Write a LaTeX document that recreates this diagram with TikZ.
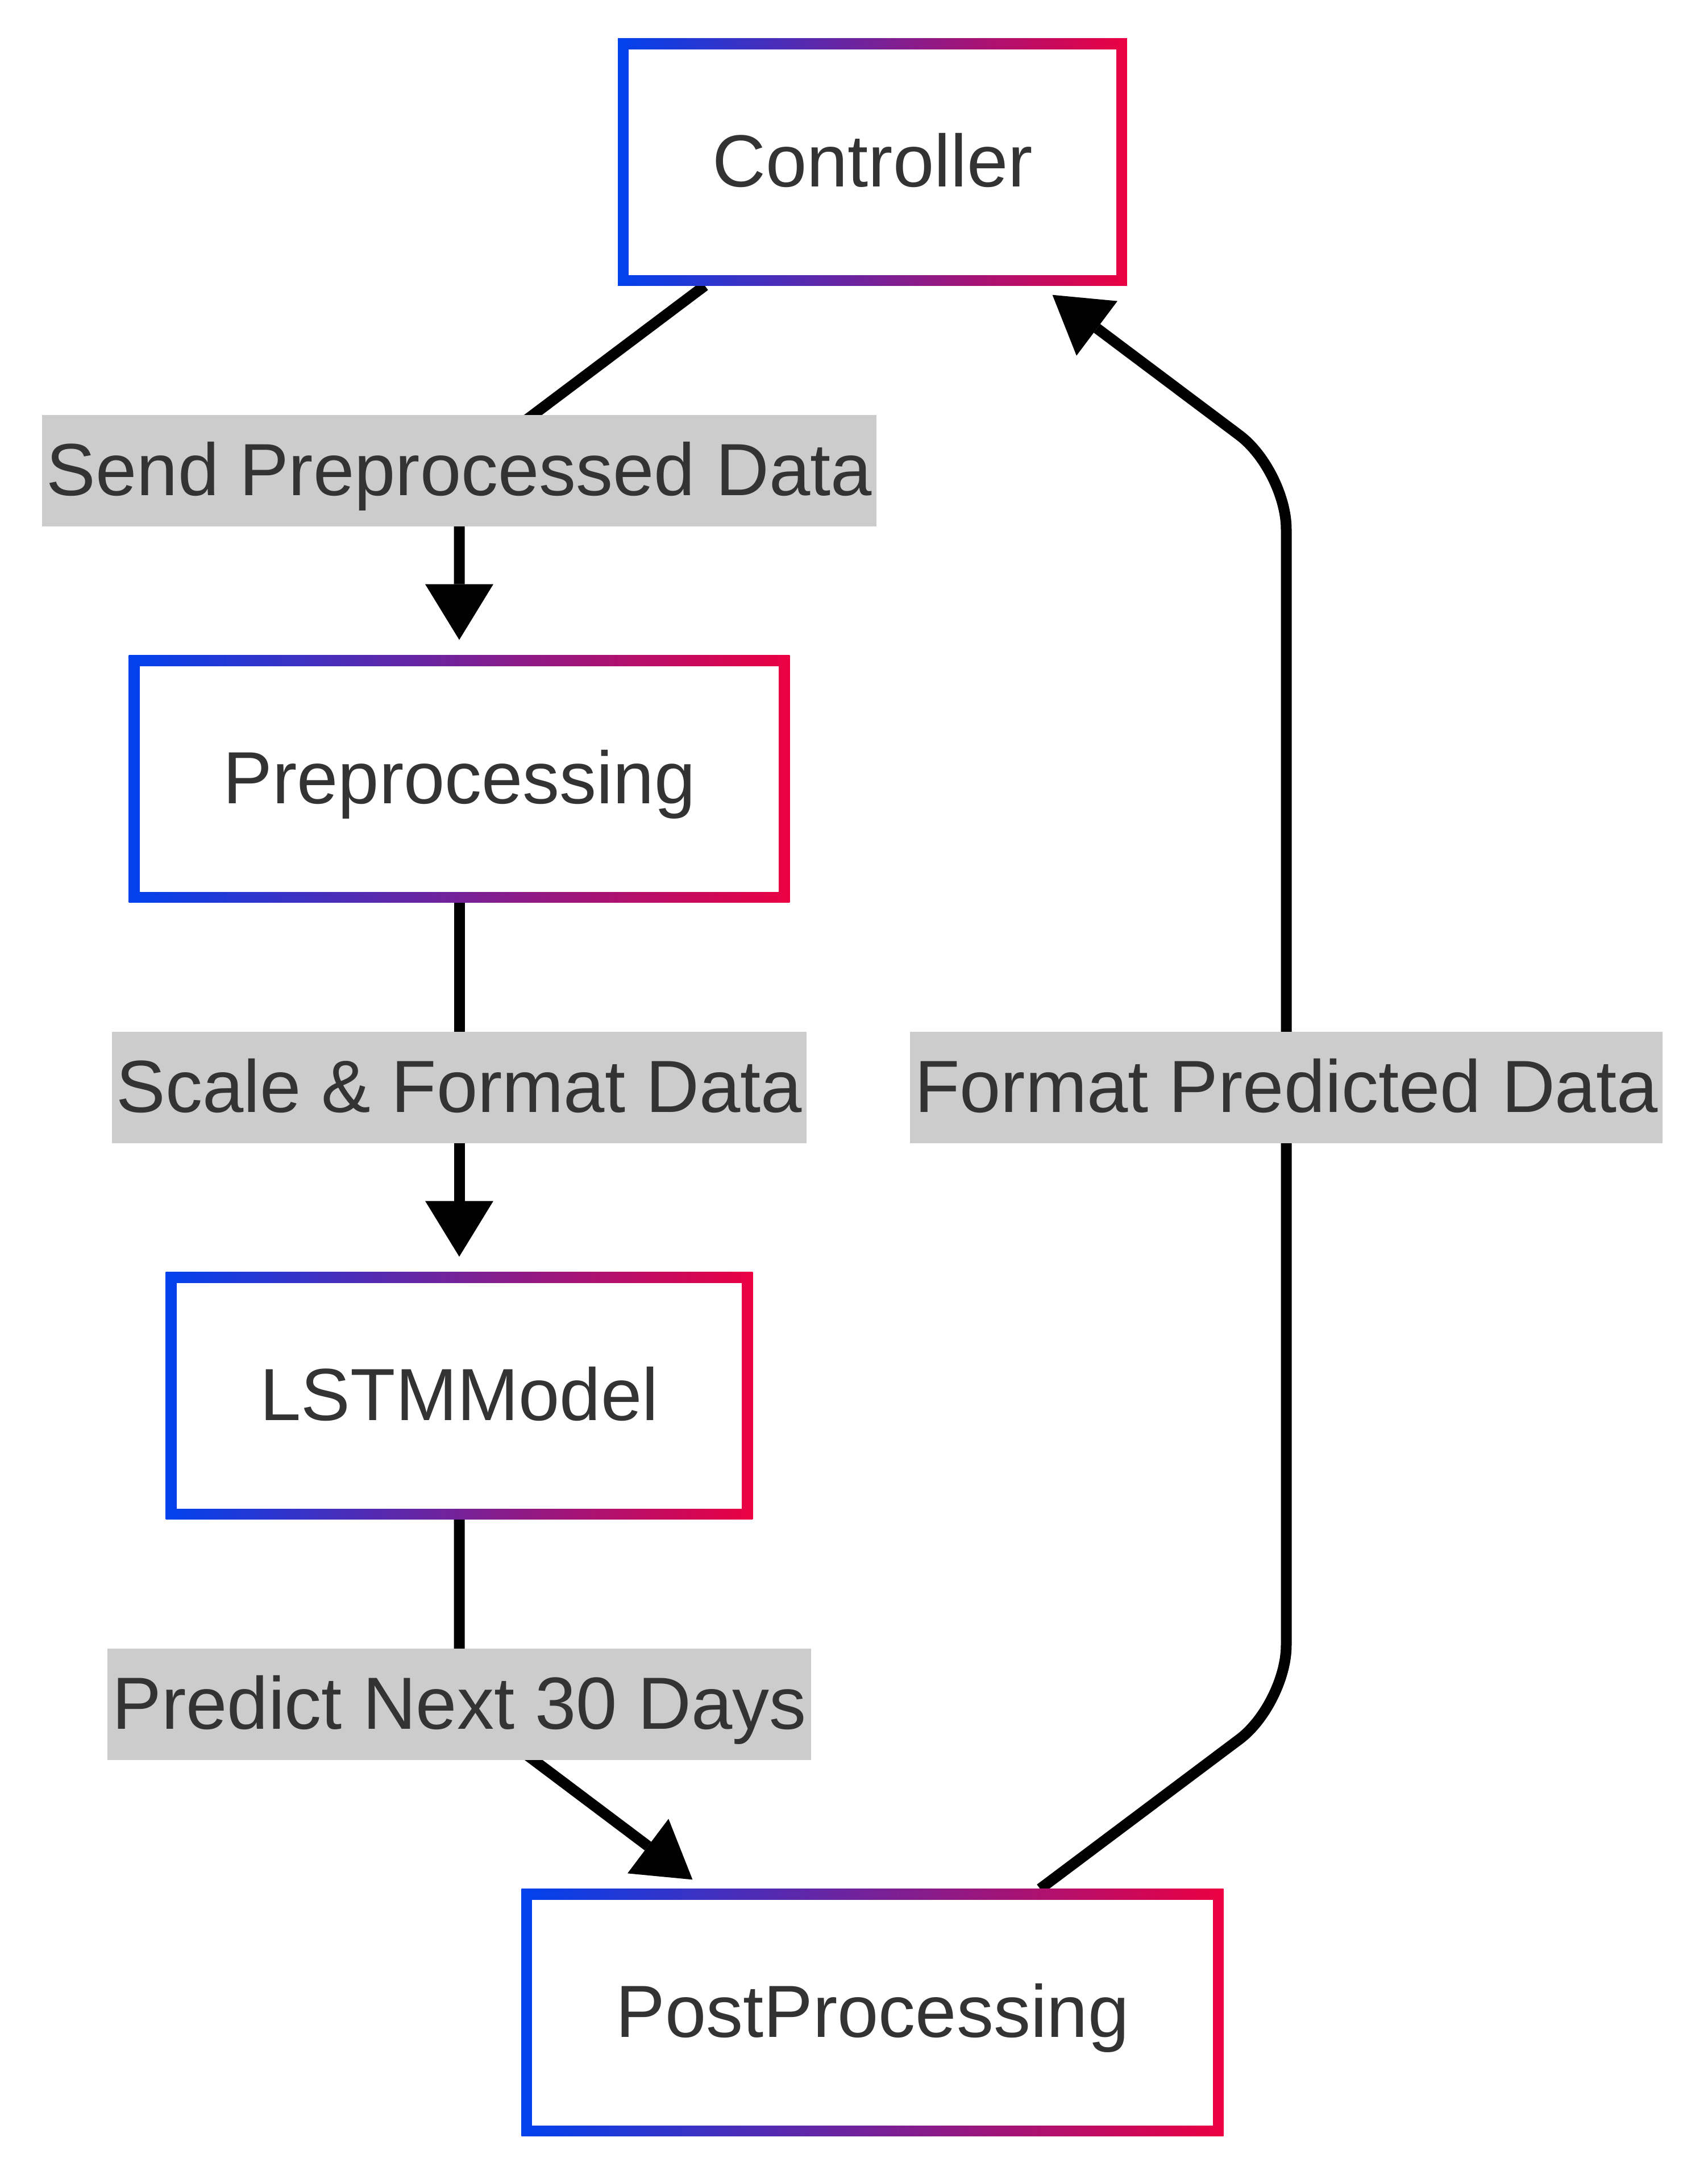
\documentclass[tikz,border=0pt]{standalone}
\usepackage{fontspec}
\setmainfont{Liberation Sans}
\usepackage{tikz}
\usetikzlibrary{arrows.meta, positioning, calc, backgrounds}
\definecolor{gradblue}{HTML}{0042EE}
\definecolor{gradred}{HTML}{EB0042}
\definecolor{textgray}{HTML}{333333}
\definecolor{lblgray}{HTML}{CCCCCC}
\begin{document}
\begin{tikzpicture}[font=\fontsize{13pt}{15pt}\selectfont, node distance=65pt,
  box/.style={rectangle, minimum height=43.5pt, inner xsep=16.6pt, outer sep=0pt,
    left color=gradblue, right color=gradred, text=textgray, text height=9.3pt, text depth=0.6pt,
    path picture={\fill[white] ([shift={(1.9pt,1.9pt)}]path picture bounding box.south west)
      rectangle ([shift={(-1.9pt,-1.9pt)}]path picture bounding box.north east);}},
  lbl/.style={rectangle, fill=lblgray, text=textgray, minimum height=19.6pt, inner xsep=0.8pt,
    outer sep=0pt, text height=9.3pt, text depth=0.6pt},
  flow/.style={line width=1.9pt, rounded corners=10.3pt, shorten >=2.7pt,
    -{Triangle[length=9.8pt, width=12pt, line width=0pt]}}]
  \useasboundingbox (0,0) rectangle (300.5pt,-384pt);
  \node[box] (ctrl) at (153.5pt,-28.5pt) {Controller};
  \node[box, below=of ctrl, xshift=-72.7pt] (pre) {Preprocessing};
  \node[box, below=of pre] (lstm) {LSTMModel};
  \node[box, below=of lstm, xshift=72.7pt] (post) {PostProcessing};
  \node[lbl] (l1) at ($(ctrl.south -| pre)!0.5!(pre.north)$) {Send Preprocessed Data};
  \node[lbl] (l2) at ($(pre.south)!0.5!(lstm.north)$) {Scale \& Format Data};
  \node[lbl] (l3) at ($(lstm.south)!0.5!(post.north -| lstm)$) {Predict Next 30 Days};
  \node[lbl] (l4) at ([xshift=145.5pt]l2) {Format Predicted Data};
  \begin{scope}[on background layer]
    \draw[flow] ([xshift=-29.5pt]ctrl.south) -- (l1.center) -- (pre.north);
    \draw[flow] (pre.south) -- (lstm.north);
    \draw[flow] (lstm.south) -- (l3.center) -- ([xshift=-29.5pt]post.north);
    \draw[flow] ([xshift=29.5pt]post.north) -- (l4 |- l3) -- (l4 |- l1) -- ([xshift=29.5pt]ctrl.south);
  \end{scope}
\end{tikzpicture}
\end{document}
